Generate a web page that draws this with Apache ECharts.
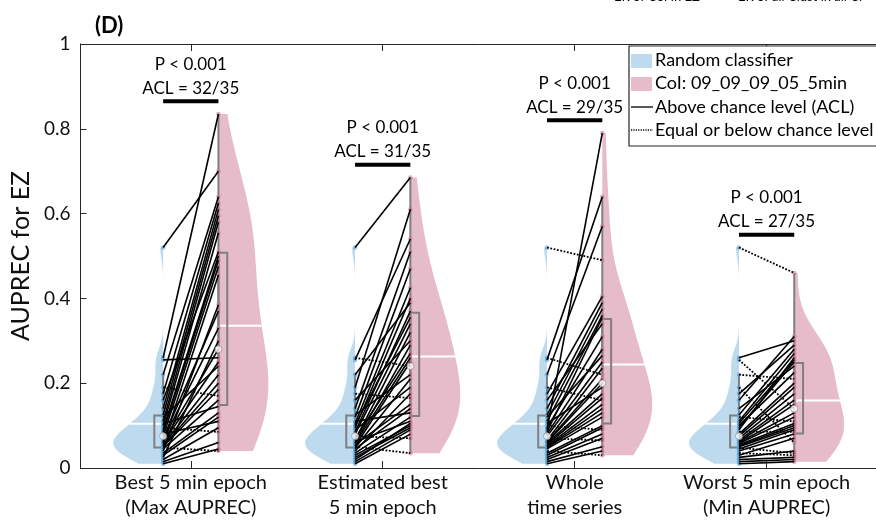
<!DOCTYPE html>
<html><head><meta charset="utf-8">
<script src="https://cdn.jsdelivr.net/npm/echarts@6/dist/echarts.min.js"></script>
<style>html,body{margin:0;padding:0;background:#fff}#c{width:876px;height:520px}</style>
</head><body><div id="c"></div>
<script>
// ---------------- data ----------------
const categories = ['Best 5 min epoch\n(Max AUPREC)', 'Estimated best\n5 min epoch', 'Whole\ntime series', 'Worst 5 min epoch\n(Min AUPREC)'];
const yTicks = [0, 0.2, 0.4, 0.6, 0.8, 1];
// Random classifier AUPREC per patient (same for every condition)
const randomAUPREC = [0.52,0.26,0.255,0.22,0.19,0.175,0.16,0.14,0.125,0.12,0.11,0.105,0.10,0.095,0.09,0.085,0.08,0.075,0.07,0.065,0.062,0.06,0.058,0.055,0.052,0.05,0.048,0.045,0.04,0.035,0.03,0.025,0.02,0.015,0.01];
// CoI AUPREC per patient, one array per condition
const coiBest      = [0.70,0.835,0.26,0.64,0.17,0.625,0.51,0.61,0.595,0.24,0.58,0.145,0.555,0.085,0.50,0.49,0.11,0.475,0.37,0.33,0.28,0.25,0.455,0.22,0.20,0.185,0.04,0.16,0.385,0.13,0.12,0.30,0.095,0.06,0.045];
const coiEstimated = [0.685,0.24,0.54,0.39,0.61,0.165,0.30,0.51,0.22,0.47,0.13,0.425,0.355,0.40,0.19,0.37,0.34,0.07,0.27,0.32,0.11,0.29,0.26,0.15,0.25,0.035,0.21,0.14,0.175,0.12,0.10,0.095,0.105,0.09,0.08];
const coiWhole     = [0.49,0.22,0.64,0.57,0.16,0.405,0.34,0.39,0.375,0.265,0.36,0.19,0.09,0.31,0.79,0.355,0.28,0.25,0.065,0.235,0.21,0.20,0.175,0.165,0.15,0.14,0.13,0.12,0.03,0.10,0.095,0.08,0.07,0.05,0.04];
const coiWorst     = [0.46,0.30,0.14,0.21,0.06,0.29,0.31,0.24,0.28,0.11,0.27,0.255,0.225,0.25,0.26,0.085,0.20,0.19,0.175,0.16,0.15,0.13,0.12,0.105,0.10,0.095,0.035,0.09,0.08,0.03,0.07,0.04,0.025,0.02,0.015];
// 1 = above chance level (solid), 0 = equal or below (dotted)
const aclBest      = [1,1,1,1,0,1,1,1,1,1,1,1,1,0,1,1,1,1,1,1,1,1,1,1,1,1,0,1,1,1,1,1,1,1,1];
const aclEstimated = [1,0,1,1,1,0,1,1,1,1,1,1,1,1,1,1,1,0,1,1,1,1,1,1,1,0,1,1,1,1,1,1,1,1,1];
const aclWhole     = [0,0,1,1,0,1,1,1,1,1,1,1,0,1,1,1,1,1,0,1,1,1,1,1,1,1,1,1,0,1,1,1,1,1,1];
const aclWorst     = [0,1,0,0,0,1,1,1,1,0,1,1,1,1,1,0,1,1,1,1,1,1,1,1,1,1,0,1,1,0,1,1,1,1,1];
const pValueTexts  = ['P < 0.001', 'P < 0.001', 'P < 0.001', 'P < 0.001'];
const legendLabels = ['Random classifier', 'CoI: 09_09_09_05_5min', 'Above chance level (ACL)', 'Equal or below chance level'];

// ---------------- styling constants ----------------
const FONT = 'Lato, "Noto Sans", sans-serif';
const BLUE = '#bddaee', PINK = '#e6bccb';
const BLUE_DOT = 'rgba(95,165,215,0.8)', PINK_DOT = 'rgba(205,115,145,0.75)';
const GREY = '#7f7f7f';
const HALF_W = 0.26, OFFSET = 0.144, BOX_W = 0.046;

const coiSets = [coiBest, coiEstimated, coiWhole, coiWorst];
const aclSets = [aclBest, aclEstimated, aclWhole, aclWorst];

// ---------------- statistics helpers ----------------
function sorted(a){ return a.slice().sort((x,y)=>x-y); }
function quant(s, p){ const n=s.length; const pos=n*p-0.5; if(pos<=0) return s[0]; if(pos>=n-1) return s[n-1]; const i=Math.floor(pos); return s[i]+(pos-i)*(s[i+1]-s[i]); }
function mean(a){ return a.reduce((u,v)=>u+v,0)/a.length; }
function makeKde(vals){
  const s = sorted(vals), n = s.length;
  const med = quant(s,0.5);
  const mad = quant(sorted(s.map(v=>Math.abs(v-med))),0.5);
  let bw = (mad/0.6745)*Math.pow(4/(3*n),0.2);
  if(!(bw>0)) bw = 0.01;
  const f = y => s.reduce((acc,x)=>acc+Math.exp(-0.5*((y-x)/bw)*((y-x)/bw)),0);
  const lo=s[0], hi=s[n-1], steps=140;
  const ys=[], ds=[];
  for(let i=0;i<=steps;i++){ const y=lo+(hi-lo)*i/steps; ys.push(y); ds.push(f(y)); }
  const mx = Math.max(...ds);
  return {ys, ds: ds.map(d=>d/mx), at: y=>f(y)/mx, s};
}

// ---------------- build geometry from data ----------------
const violins=[], boxes=[], whiskers=[], meanLines=[], medians=[], pairLines=[], blueDots=[], pinkDots=[], sigs=[];
coiSets.forEach((coi, c) => {
  const cx = c+1;
  [[randomAUPREC,-1,BLUE],[coi,1,PINK]].forEach(([vals,side,color])=>{
    const col = cx + side*OFFSET;
    const k = makeKde(vals);
    const pts = [[col,k.ys[0]]];
    k.ys.forEach((y,i)=>pts.push([col+side*HALF_W*k.ds[i], y]));
    pts.push([col,k.ys[k.ys.length-1]]);
    violins.push({pts,color});
    const s = k.s;
    const q1=quant(s,0.25), q3=quant(s,0.75), iqr=q3-q1;
    const lowAdj = s.find(v=>v>=q1-1.5*iqr), upAdj = s.filter(v=>v<=q3+1.5*iqr).pop();
    whiskers.push([[col,lowAdj],[col,upAdj]]);
    boxes.push([[col,q1],[col+side*BOX_W,q1],[col+side*BOX_W,q3],[col,q3]]);
    const m = mean(vals);
    meanLines.push([[col,m],[col+side*HALF_W*k.at(m),m]]);
    medians.push([col, quant(s,0.5)]);
    vals.forEach(v=>(side<0?blueDots:pinkDots).push([col,v]));
  });
  const acl = aclSets[c];
  coi.forEach((v,i)=>pairLines.push({a:[cx-OFFSET,randomAUPREC[i]], b:[cx+OFFSET,v], solid: acl[i]===1}));
  const top = Math.max(...coi, ...randomAUPREC) + 0.03;
  const nAcl = acl.reduce((u,v)=>u+v,0);
  sigs.push({a:[cx-OFFSET,top], b:[cx+OFFSET,top], p:pValueTexts[c], acl:'ACL = '+nAcl+'/'+acl.length});
});

function idx(arr){ return arr.map((_,i)=>[i]); }

const chart = echarts.init(document.getElementById('c'), null, {renderer:'canvas'});
const axisColor = '#262626';
const option = {
  animation:false,
  backgroundColor:'#fff',
  grid:{left:69, top:44, width:807, height:425, containLabel:false},
  xAxis:[
    {type:'value', min:0.425, max:4.57, position:'bottom',
     axisLine:{show:true, onZero:false, lineStyle:{color:axisColor, width:1}},
     splitLine:{show:false},
     axisTick:{show:true, inside:true, length:7, customValues:[1,2,3,4], lineStyle:{color:axisColor}},
     axisLabel:{show:true, customValues:[1,2,3,4], formatter:v=>categories[Math.round(v)-1], fontFamily:FONT, fontSize:20, color:'#111', lineHeight:25, margin:2}},
    {type:'value', min:0.425, max:4.57, position:'top',
     axisLine:{show:true, onZero:false, lineStyle:{color:axisColor, width:1}},
     splitLine:{show:false},
     axisTick:{show:true, inside:true, length:7, customValues:[1,2,3,4], lineStyle:{color:axisColor}},
     axisLabel:{show:false}}
  ],
  yAxis:{type:'value', min:yTicks[0], max:yTicks[yTicks.length-1], interval:0.2,
    axisLine:{show:true, lineStyle:{color:axisColor, width:1}},
    axisTick:{show:true, inside:true, length:6, lineStyle:{color:axisColor}},
    splitLine:{show:false},
    axisLabel:{fontFamily:FONT, fontSize:19, color:'#111', margin:10},
    name:'AUPREC for EZ', nameLocation:'middle', nameGap:44, nameRotate:90,
    nameTextStyle:{fontFamily:FONT, fontSize:25, color:'#111'}},
  series:[
    {type:'custom', silent:true, z:1, data:idx(violins), renderItem:(p,api)=>{
      const v=violins[p.dataIndex];
      return {type:'polygon', shape:{points:v.pts.map(q=>api.coord(q))}, style:{fill:v.color}};
    }},
    {type:'custom', silent:true, z:2, data:idx(meanLines), renderItem:(p,api)=>{
      const l=meanLines[p.dataIndex]; const a=api.coord(l[0]), b=api.coord(l[1]);
      return {type:'line', shape:{x1:a[0],y1:a[1],x2:b[0],y2:b[1]}, style:{stroke:'#fff', lineWidth:2}};
    }},
    {type:'custom', silent:true, z:3, data:idx(whiskers), renderItem:(p,api)=>{
      const l=whiskers[p.dataIndex]; const a=api.coord(l[0]), b=api.coord(l[1]);
      return {type:'line', shape:{x1:a[0],y1:a[1],x2:b[0],y2:b[1]}, style:{stroke:GREY, lineWidth:2}};
    }},
    {type:'custom', silent:true, z:3, data:idx(boxes), renderItem:(p,api)=>{
      const b=boxes[p.dataIndex];
      return {type:'polygon', shape:{points:b.map(q=>api.coord(q))}, style:{fill:'none', stroke:GREY, lineWidth:2}};
    }},
    {type:'scatter', silent:true, z:4, data:blueDots, symbolSize:4.5, itemStyle:{color:BLUE_DOT}},
    {type:'scatter', silent:true, z:4, data:pinkDots, symbolSize:4.5, itemStyle:{color:PINK_DOT}},
    {type:'custom', silent:true, z:5, data:idx(pairLines), renderItem:(p,api)=>{
      const l=pairLines[p.dataIndex]; const a=api.coord(l.a), b=api.coord(l.b);
      return {type:'line', shape:{x1:a[0],y1:a[1],x2:b[0],y2:b[1]},
        style:{stroke:'#000', lineWidth:l.solid?1.6:1.8, lineDash:l.solid?null:[1.8,1.6]}};
    }},
    {type:'scatter', silent:true, z:6, data:medians, symbolSize:7, itemStyle:{color:'#fff', borderColor:GREY, borderWidth:0.8}},
    {type:'custom', silent:true, z:7, data:idx(sigs), renderItem:(p,api)=>{
      const s=sigs[p.dataIndex]; const a=api.coord(s.a), b=api.coord(s.b);
      const mx=(a[0]+b[0])/2;
      return {type:'group', children:[
        {type:'line', shape:{x1:a[0],y1:a[1],x2:b[0],y2:b[1]}, style:{stroke:'#000', lineWidth:4}},
        {type:'text', x:mx, y:a[1]-37, style:{text:s.p, fill:'#000', font:'17px '+FONT, align:'center', verticalAlign:'middle', textAlign:'center', textVerticalAlign:'middle'}},
        {type:'text', x:mx, y:a[1]-13, style:{text:s.acl, fill:'#000', font:'17px '+FONT, align:'center', verticalAlign:'middle', textAlign:'center', textVerticalAlign:'middle'}}
      ]};
    }}
  ],
  graphic:[
    {type:'text', z:100, left:95, top:15, style:{text:'(D)', font:'bold 22px '+FONT, fill:'#000'}},
    {type:'text', z:100, x:614, y:-10, style:{text:'ER of CoI in EZ', font:'13px '+FONT, fill:'#000'}},
    {type:'text', z:100, x:738, y:-10, style:{text:'ER of all Clust in all Cl', font:'13px '+FONT, fill:'#000'}},
    {type:'rect', z:100, shape:{x:629, y:46, width:270, height:100}, style:{fill:'#fff', stroke:axisColor, lineWidth:1.2}},
    {type:'rect', z:101, shape:{x:631, y:54, width:21, height:14}, style:{fill:BLUE}},
    {type:'rect', z:101, shape:{x:631, y:77, width:21, height:14}, style:{fill:PINK}},
    {type:'line', z:101, shape:{x1:631, y1:107, x2:653, y2:107}, style:{stroke:'#000', lineWidth:1.3}},
    {type:'line', z:101, shape:{x1:631, y1:130, x2:653, y2:130}, style:{stroke:'#000', lineWidth:1.3, lineDash:[1.2,1.2]}},
    ...legendLabels.map((t,i)=>({type:'text', z:101, x:655, y:[60,83,107,130][i], style:{text:t, font:'18px '+FONT, fill:'#000', verticalAlign:'middle', textVerticalAlign:'middle'}}))
  ]
};
chart.setOption(option);
</script>
</body></html>
